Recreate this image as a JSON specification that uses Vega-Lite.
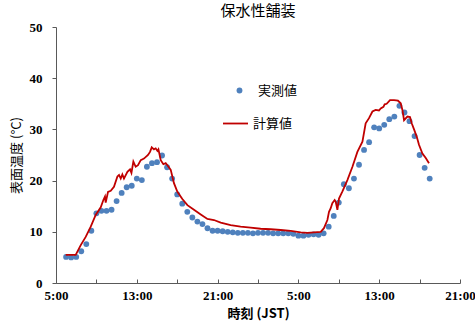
{
  "$schema": "https://vega.github.io/schema/vega-lite/v6.json",
  "width": 404,
  "height": 256,
  "autosize": "none",
  "padding": {"left": 56, "top": 27, "right": 15, "bottom": 45},
  "background": "white",
  "title": {"text": "保水性舗装", "font": "Noto Sans CJK JP", "fontSize": 15, "fontWeight": "normal", "color": "#000000", "anchor": "middle", "offset": 2},
  "config": {
    "view": {"stroke": null},
    "axis": {"grid": false, "domainColor": "#595959", "tickColor": "#595959", "labelFont": "Liberation Serif", "labelFontWeight": "bold", "labelFontSize": 13, "labelColor": "#000000", "titleColor": "#000000"}
  },
  "datasets": {
    "obs": [
      {"h": 1.0, "t": 5.1}, {"h": 1.5, "t": 5.0}, {"h": 2.0, "t": 5.1}, {"h": 2.5, "t": 6.2}, {"h": 3.0, "t": 7.6},
      {"h": 3.5, "t": 10.2}, {"h": 4.0, "t": 13.6}, {"h": 4.5, "t": 14.1}, {"h": 5.0, "t": 14.1}, {"h": 5.5, "t": 14.3},
      {"h": 6.0, "t": 16.0}, {"h": 6.5, "t": 17.6}, {"h": 7.0, "t": 18.7}, {"h": 7.5, "t": 19.0}, {"h": 8.0, "t": 20.4},
      {"h": 8.5, "t": 20.1}, {"h": 9.0, "t": 22.7}, {"h": 9.5, "t": 23.4}, {"h": 10.0, "t": 23.6}, {"h": 10.5, "t": 24.9},
      {"h": 11.0, "t": 22.6}, {"h": 11.5, "t": 20.4}, {"h": 12.0, "t": 17.3}, {"h": 12.5, "t": 15.5}, {"h": 13.0, "t": 13.9},
      {"h": 13.5, "t": 12.8}, {"h": 14.0, "t": 12.0}, {"h": 14.5, "t": 11.5}, {"h": 15.0, "t": 10.7}, {"h": 15.5, "t": 10.2},
      {"h": 16.0, "t": 10.2}, {"h": 16.5, "t": 10.1}, {"h": 17.0, "t": 10.0}, {"h": 17.5, "t": 9.9}, {"h": 18.0, "t": 9.8},
      {"h": 18.5, "t": 9.8}, {"h": 19.0, "t": 9.8}, {"h": 19.5, "t": 9.7}, {"h": 20.0, "t": 9.8}, {"h": 20.5, "t": 9.8},
      {"h": 21.0, "t": 9.8}, {"h": 21.5, "t": 9.7}, {"h": 22.0, "t": 9.7}, {"h": 22.5, "t": 9.7}, {"h": 23.0, "t": 9.7},
      {"h": 23.5, "t": 9.6}, {"h": 24.0, "t": 9.25}, {"h": 24.5, "t": 9.25}, {"h": 25.0, "t": 9.4}, {"h": 25.5, "t": 9.5},
      {"h": 26.0, "t": 9.4}, {"h": 26.5, "t": 9.7}, {"h": 27.0, "t": 11.0}, {"h": 27.5, "t": 13.1}, {"h": 28.0, "t": 15.7},
      {"h": 28.5, "t": 19.3}, {"h": 29.0, "t": 18.5}, {"h": 29.5, "t": 20.4}, {"h": 30.0, "t": 23.1}, {"h": 30.5, "t": 26.0},
      {"h": 31.0, "t": 27.5}, {"h": 31.5, "t": 30.4}, {"h": 32.0, "t": 30.2}, {"h": 32.5, "t": 30.9}, {"h": 33.0, "t": 32.0},
      {"h": 33.5, "t": 32.5}, {"h": 34.0, "t": 34.6}, {"h": 34.5, "t": 33.3}, {"h": 35.0, "t": 31.6}, {"h": 35.5, "t": 28.7},
      {"h": 36.0, "t": 25.0}, {"h": 36.5, "t": 22.5}, {"h": 37.0, "t": 20.4}
    ],
    "calc": [
      {"h": 0.96, "t": 5.5}, {"h": 1.95, "t": 5.5}, {"h": 2.45, "t": 7.4}, {"h": 2.94, "t": 9.0}, {"h": 3.44, "t": 11.0},
      {"h": 3.93, "t": 13.3}, {"h": 4.43, "t": 14.8}, {"h": 4.69, "t": 16.2}, {"h": 4.85, "t": 16.9}, {"h": 4.92, "t": 15.7},
      {"h": 5.15, "t": 17.8}, {"h": 5.42, "t": 18.0}, {"h": 5.74, "t": 18.8}, {"h": 6.08, "t": 20.8}, {"h": 6.24, "t": 21.1},
      {"h": 6.41, "t": 20.4}, {"h": 6.57, "t": 21.2}, {"h": 6.73, "t": 20.4}, {"h": 7.07, "t": 21.7}, {"h": 7.33, "t": 22.2},
      {"h": 7.47, "t": 21.5}, {"h": 7.66, "t": 23.7}, {"h": 7.89, "t": 22.7}, {"h": 8.12, "t": 23.0}, {"h": 8.39, "t": 24.0},
      {"h": 8.71, "t": 24.3}, {"h": 9.11, "t": 25.0}, {"h": 9.31, "t": 25.6}, {"h": 9.48, "t": 26.5}, {"h": 9.70, "t": 26.1},
      {"h": 9.87, "t": 26.3}, {"h": 10.04, "t": 25.8}, {"h": 10.14, "t": 26.1}, {"h": 10.37, "t": 24.0}, {"h": 10.63, "t": 23.2},
      {"h": 10.86, "t": 23.4}, {"h": 11.03, "t": 23.0}, {"h": 11.36, "t": 22.1}, {"h": 11.68, "t": 19.5}, {"h": 12.02, "t": 17.8},
      {"h": 12.51, "t": 16.4}, {"h": 13.01, "t": 15.2}, {"h": 13.66, "t": 14.3}, {"h": 14.33, "t": 13.4}, {"h": 14.99, "t": 12.5},
      {"h": 15.64, "t": 12.3}, {"h": 16.31, "t": 11.8}, {"h": 17.29, "t": 11.3}, {"h": 18.28, "t": 11.0}, {"h": 19.27, "t": 10.8},
      {"h": 20.26, "t": 10.6}, {"h": 21.25, "t": 10.5}, {"h": 22.25, "t": 10.35}, {"h": 23.24, "t": 10.2}, {"h": 24.23, "t": 9.9},
      {"h": 24.89, "t": 9.8}, {"h": 25.54, "t": 9.9}, {"h": 26.21, "t": 10.0}, {"h": 26.53, "t": 10.7}, {"h": 26.87, "t": 12.3},
      {"h": 27.03, "t": 13.9}, {"h": 27.20, "t": 14.6}, {"h": 27.36, "t": 15.6}, {"h": 27.59, "t": 16.2}, {"h": 27.69, "t": 15.9},
      {"h": 27.86, "t": 14.3}, {"h": 28.02, "t": 16.5}, {"h": 28.36, "t": 17.9}, {"h": 28.85, "t": 20.1}, {"h": 29.35, "t": 22.7},
      {"h": 29.84, "t": 25.6}, {"h": 30.34, "t": 27.6}, {"h": 30.66, "t": 31.2}, {"h": 30.99, "t": 32.2}, {"h": 31.33, "t": 33.5},
      {"h": 31.65, "t": 33.8}, {"h": 31.98, "t": 33.7}, {"h": 32.15, "t": 34.1}, {"h": 32.42, "t": 34.4}, {"h": 32.54, "t": 34.9},
      {"h": 32.74, "t": 35.0}, {"h": 33.07, "t": 35.7}, {"h": 33.47, "t": 35.7}, {"h": 33.86, "t": 35.6}, {"h": 34.13, "t": 35.1},
      {"h": 34.30, "t": 33.8}, {"h": 34.46, "t": 31.8}, {"h": 34.79, "t": 32.5}, {"h": 35.05, "t": 32.4}, {"h": 35.22, "t": 31.2},
      {"h": 35.45, "t": 30.0}, {"h": 35.71, "t": 28.6}, {"h": 35.94, "t": 27.0}, {"h": 36.28, "t": 25.3}, {"h": 36.61, "t": 24.4},
      {"h": 36.93, "t": 23.4}
    ]
  },
  "layer": [
    {
      "data": {"name": "obs"},
      "transform": [{"calculate": "'実測値'", "as": "series"}],
      "mark": {"type": "point", "filled": true, "shape": "circle", "size": 34, "opacity": 1},
      "encoding": {
        "x": {"field": "h", "type": "quantitative", "scale": {"domain": [0, 40], "nice": false},
          "axis": {"title": "時刻 (JST)", "titleFont": "Noto Sans CJK JP", "titleFontSize": 13, "titleFontWeight": "bold", "titlePadding": 5,
            "values": [0, 2, 4, 6, 8, 10, 12, 14, 16, 18, 20, 22, 24, 26, 28, 30, 32, 34, 36, 38, 40],
            "labelExpr": "datum.value % 8 == 0 ? ((5 + datum.value) % 24) + ':00' : ''",
            "tickSize": -4, "labelPadding": 10, "labelFlush": false, "labelOverlap": false}},
        "y": {"field": "t", "type": "quantitative", "scale": {"domain": [0, 50], "nice": false},
          "axis": {"title": "表面温度 (°C)", "titleFont": "Noto Sans CJK JP", "titleFontSize": 13, "titleFontWeight": "normal", "titlePadding": 6,
            "values": [0, 5, 10, 15, 20, 25, 30, 35, 40, 45, 50],
            "labelExpr": "datum.value % 10 == 0 ? datum.label : ''",
            "tickSize": 4, "labelPadding": 10}},
        "fill": {"field": "series", "type": "nominal", "scale": {"domain": ["実測値"], "range": ["#4F81BD"]},
          "legend": {"title": null, "orient": "none", "legendX": 177, "legendY": 57, "symbolType": "circle", "symbolSize": 34, "symbolStrokeWidth": 0, "labelFont": "Noto Sans CJK JP", "labelFontSize": 13, "labelColor": "#000000", "labelOffset": 12, "padding": 0}}
      }
    },
    {
      "data": {"name": "calc"},
      "transform": [{"calculate": "'計算値'", "as": "series"}],
      "mark": {"type": "line", "strokeWidth": 1.8},
      "encoding": {
        "x": {"field": "h", "type": "quantitative"},
        "y": {"field": "t", "type": "quantitative"},
        "stroke": {"field": "series", "type": "nominal", "scale": {"domain": ["計算値"], "range": ["#C00000"]},
          "legend": {"title": null, "orient": "none", "legendX": 166, "legendY": 83, "symbolType": "stroke", "symbolSize": 625, "symbolStrokeWidth": 1.8, "labelFont": "Noto Sans CJK JP", "labelFontSize": 13, "labelColor": "#000000", "labelOffset": 4, "padding": 0}}
      }
    }
  ],
  "resolve": {"scale": {"fill": "independent", "stroke": "independent"}}
}
